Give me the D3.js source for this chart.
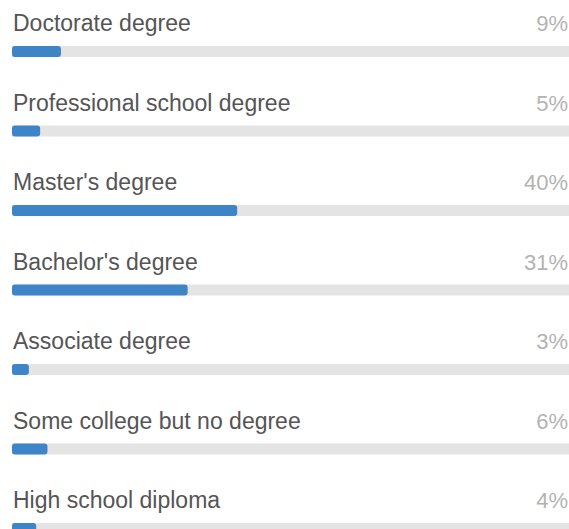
<!DOCTYPE html>
<html>
<head>
    <meta charset="UTF-8">
    <title>Education level</title>
    <style>
        body { margin: 0; background: #fff; }
        text { font-family: "Liberation Sans", Arial, sans-serif; }
    </style>
</head>
<body>
    <div id="chart"></div>
    <script src="https://cdn.jsdelivr.net/npm/d3@7"></script>
    <script>

    // categories and shares (percent), top to bottom
    const categories = ["Doctorate degree", "Professional school degree", "Master's degree",
        "Bachelor's degree", "Associate degree", "Some college but no degree", "High school diploma"];
    const values = [8.7, 5.0, 40.0, 31.2, 3.0, 6.3, 4.3];
    const valueLabels = ["9%", "5%", "40%", "31%", "3%", "6%", "4%"];

    const width = 569, height = 529;
    const left = 12, rowH = 79.5;

    const svg = d3.select("#chart")
        .append("svg")
        .attr("width", width)
        .attr("height", height);

    const y = d3.scaleBand()
        .domain(categories)
        .range([0, rowH * categories.length]);

    const x = d3.scaleLinear()
        .domain([0, 100])
        .range([0, 563]);

    const row = svg.selectAll("g.row")
        .data(categories)
        .join("g")
        .attr("class", "row")
        .attr("transform", d => `translate(0, ${y(d)})`);

    // label
    row.append("text")
        .attr("x", left + 1)
        .attr("y", 31)
        .style("font-size", "23px")
        .style("fill", "#555")
        .text(d => d);

    // percent
    row.append("text")
        .attr("x", 568)
        .attr("y", 31)
        .attr("text-anchor", "end")
        .style("font-size", "22px")
        .style("fill", "#b3b3b3")
        .text((d, i) => valueLabels[i]);

    // track
    row.append("rect")
        .attr("x", left)
        .attr("y", 46)
        .attr("width", x(100))
        .attr("height", 11)
        .style("fill", "#e4e4e4");

    // bar
    row.append("rect")
        .attr("x", left)
        .attr("y", 46)
        .attr("width", (d, i) => x(values[i]))
        .attr("height", 11)
        .attr("rx", 3)
        .style("fill", "#3d85c6");

    </script>
</body>
</html>
